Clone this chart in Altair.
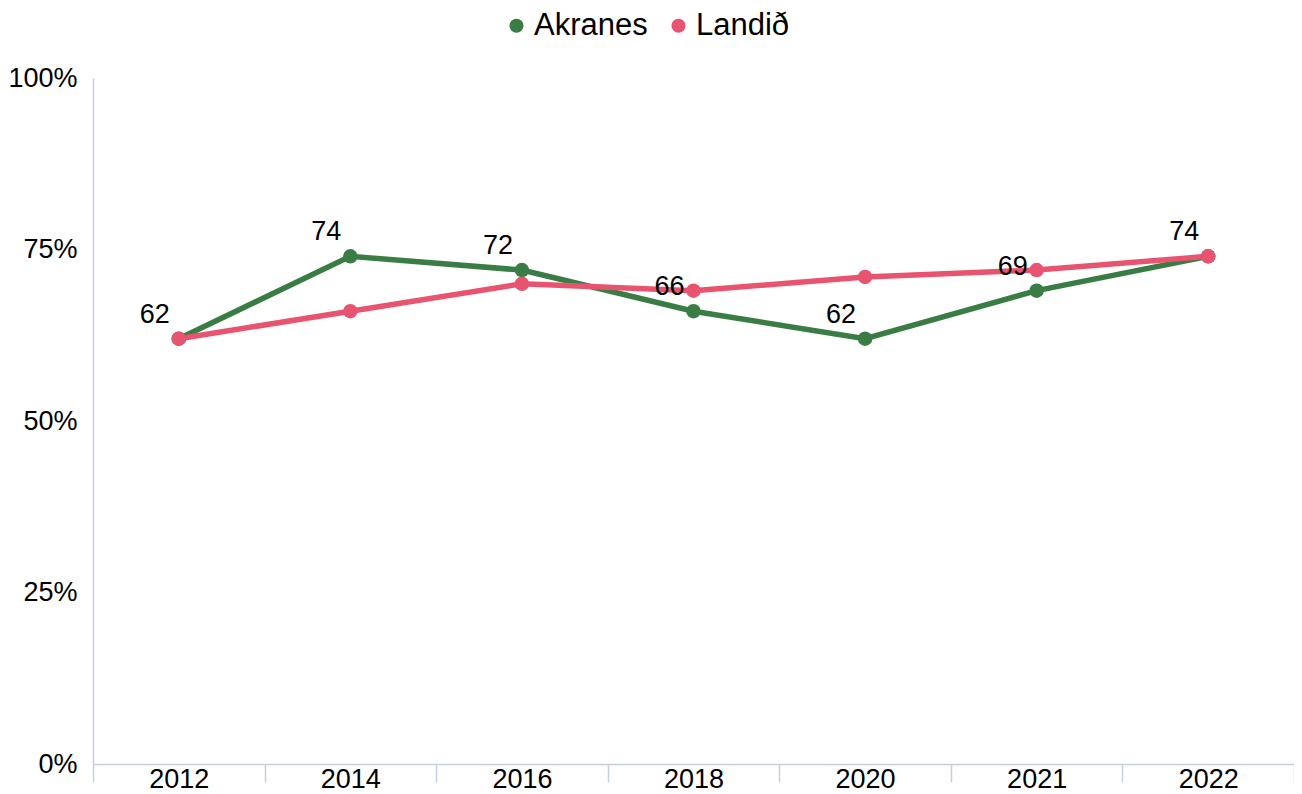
import altair as alt
import pandas as pd

years = ["2012", "2014", "2016", "2018", "2020", "2021", "2022"]
akranes = [62, 74, 72, 66, 62, 69, 74]
landid = [62, 66, 70, 69, 71, 72, 74]
series_names = ["Akranes", "Landið"]
series_colors = ["#3a7d44", "#e8546f"]
y_ticks = [0, 25, 50, 75, 100]

rows = []
for name, vals in zip(series_names, [akranes, landid]):
    for yr, v in zip(years, vals):
        rows.append({"year": yr, "value": v, "series": name})
df = pd.DataFrame(rows)

FONT = "Liberation Sans"
AXIS_COLOR = "#c5d0de"

x_enc = alt.X(
    "year:N",
    sort=years,
    scale=alt.Scale(type="band", paddingInner=0, paddingOuter=0),
    axis=alt.Axis(
        title=None,
        labelAngle=0,
        labelFontSize=27,
        labelFont=FONT,
        labelColor="#000000",
        labelPadding=-16,
        labelBaseline="top",
        tickBand="extent",
        tickSize=18,
        tickColor=AXIS_COLOR,
        tickWidth=1.5,
        domainColor=AXIS_COLOR,
        domainWidth=1.5,
        grid=False,
    ),
)
y_enc = alt.Y(
    "value:Q",
    scale=alt.Scale(domain=[0, 100], nice=False, zero=True),
    axis=alt.Axis(
        title=None,
        values=y_ticks,
        labelExpr="datum.value + '%'",
        labelFontSize=27,
        labelFont=FONT,
        labelColor="#000000",
        labelPadding=16,
        ticks=False,
        domainColor=AXIS_COLOR,
        domainWidth=1.5,
        grid=False,
    ),
)
color_enc = alt.Color(
    "series:N",
    scale=alt.Scale(domain=series_names, range=series_colors),
    sort=series_names,
    legend=alt.Legend(
        title=None,
        orient="none",
        direction="horizontal",
        legendX=408,
        legendY=-68,
        symbolType="circle",
        symbolSize=200,
        symbolStrokeWidth=0,
        symbolOpacity=1,
        labelFontSize=31,
        labelFont=FONT,
        labelColor="#000000",
        labelOffset=2,
        columnPadding=15,
    ),
)

base = alt.Chart(df).encode(x=x_enc, y=y_enc, color=color_enc)
lines = base.mark_line(strokeWidth=5.5)
points = base.mark_point(filled=True, size=210, opacity=1, shape="circle")
labels = (
    alt.Chart(df)
    .transform_filter(alt.datum.series == "Akranes")
    .mark_text(dx=-24, dy=-24, fontSize=27, font=FONT, color="#000000", align="center", baseline="middle")
    .encode(x=alt.X("year:N", sort=years), y="value:Q", text="value:Q")
)

chart = (
    alt.layer(lines, points, labels)
    .properties(
        width=1201,
        height=686,
        background="#ffffff",
        autosize=alt.AutoSizeParams(type="none"),
        padding={"left": 85, "top": 70, "right": 0, "bottom": 32},
    )
    .configure_view(strokeWidth=0, stroke=None)
)

chart.save("out.html", embed_options={"renderer": "svg", "actions": False})
